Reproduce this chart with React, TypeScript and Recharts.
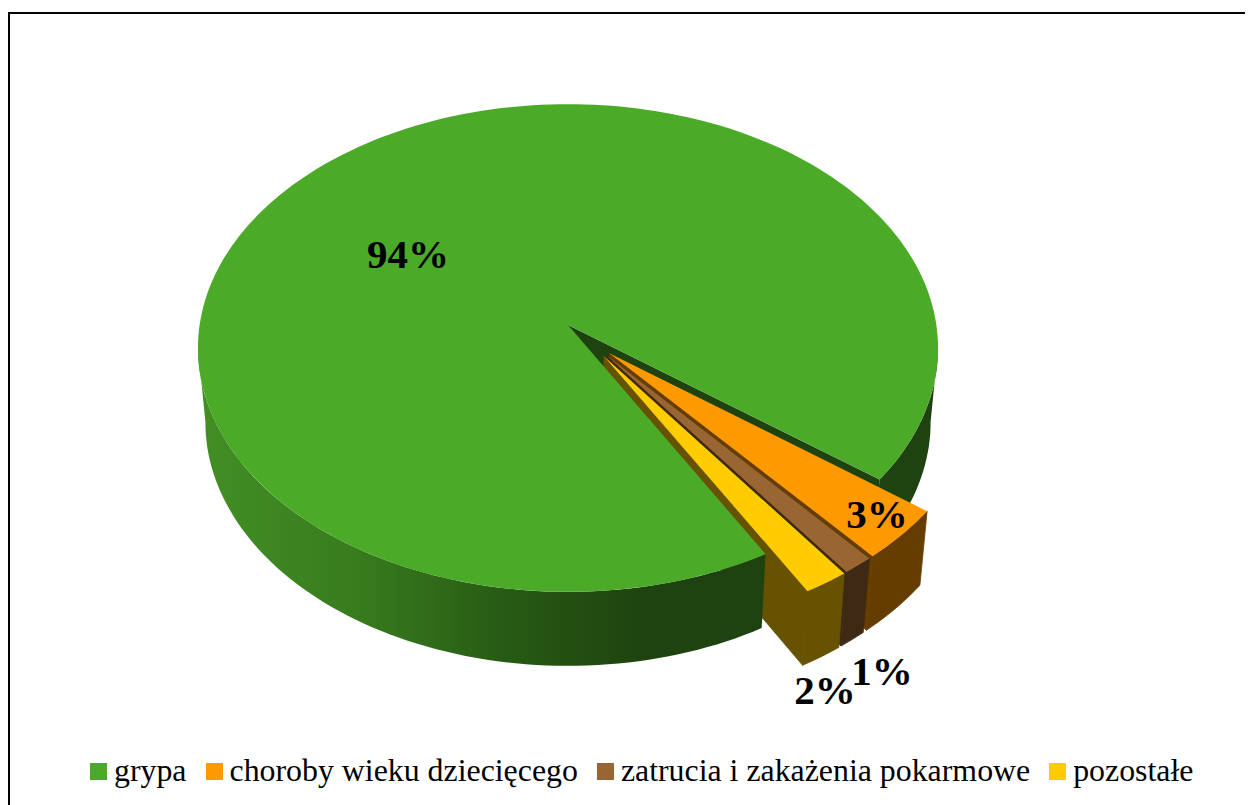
import React from 'react';
import { PieChart, Pie, Legend } from 'recharts';

const categories = ['grypa', 'choroby wieku dziecięcego', 'zatrucia i zakażenia pokarmowe', 'pozostałe'];
const shares = [93.5, 3.49, 1.21, 1.8];
const percentLabels = ['94%', '3%', '1%', '2%'];
const topColors = ['#4caa29', '#ff9900', '#996633', '#ffcc00'];
const wallColors = ['#1f4310', '#663d00', '#3d2914', '#665200'];

const chartData = categories.map((name, i) => ({ name, value: shares[i], fill: topColors[i] }));

// 3D look: perspective of the top face, explode distance and wall height
const CX = 560;
const CY = 317;
const RX = 368.4;
const SQUASH = 0.656;
const PERSP = 0.0943;
const EXPLODE = 0.16;
const DEPTH = 74;
const BOTTOM_SCALE = 0.98;
const START = -60.5;
const WEDGES_MID = -48.75;

// label centres, the original chart had them dragged by hand
const labelPos = [
  [400, 246],
  [869, 506],
  [874, 663],
  [817, 682],
];

type Pt = [number, number];

const project = (u: number, v: number): Pt => {
  const k = 1 - PERSP * v;
  return [CX + (RX * u) / k, CY + (RX * SQUASH * v) / k];
};
const lower = ([x, y]: Pt): Pt => [CX + (x - CX) * BOTTOM_SCALE, y + DEPTH];
const toPath = (pts: Pt[]) => 'M' + pts.map((p) => `${p[0].toFixed(1)},${p[1].toFixed(1)}`).join('L') + 'Z';

// points along the rim, angles are recharts angles (counter-clockwise degrees)
const rim = (from: number, to: number, ou: number, ov: number) => {
  const pts: Pt[] = [];
  const steps = Math.max(2, Math.ceil(Math.abs(to - from) / 1.5));
  for (let i = 0; i <= steps; i++) {
    const a = ((from + ((to - from) * i) / steps) * Math.PI) / 180;
    pts.push(project(ou + Math.cos(a), ov - Math.sin(a)));
  }
  return pts;
};

const isGreen = (props: any) => props.name === categories[0] || props.payload?.name === categories[0];

// small wedges are pulled out almost in one direction
const explodeOf = (props: any): Pt => {
  if (isGreen(props)) return [0, 0];
  const mid = ((props.midAngle % 360) + 360) % 360 - 360;
  const a = (((mid + WEDGES_MID) / 2) * Math.PI) / 180;
  return [EXPLODE * Math.cos(a), -EXPLODE * Math.sin(a)];
};

const WallShape = (props: any) => {
  const { startAngle, endAngle, fill } = props;
  if (isGreen(props)) {
    // only the part behind the wedges: short right arc and the cut face
    const arc = rim(endAngle, -365.4, 0, 0);
    const centre = project(0, 0);
    const cut = arc[0];
    return (
      <g>
        <path d={toPath([...arc, ...arc.map(lower).reverse()])} fill={wallColors[0]} />
        <path d={toPath([centre, cut, lower(cut), lower(centre)])} fill={wallColors[0]} />
      </g>
    );
  }
  const [ou, ov] = explodeOf(props);
  const arc = rim(startAngle, endAngle, ou, ov);
  const apex = project(ou, ov);
  const end = arc[arc.length - 1];
  const color = wallColors[topColors.indexOf(fill)];
  return (
    <g stroke={color} strokeWidth={0.8}>
      <path d={toPath([apex, end, lower(end), lower(apex)])} fill={color} />
      <path d={toPath([...arc, ...arc.map(lower).reverse()])} fill={color} />
    </g>
  );
};

const TopShape = (props: any) => {
  const { startAngle, endAngle, fill } = props;
  const [ou, ov] = explodeOf(props);
  const arc = rim(startAngle, endAngle, ou, ov);
  const apex = project(ou, ov);
  if (isGreen(props)) {
    // front wall from the lower cut round to the left side
    const front = rim(startAngle, -174.6, 0, 0);
    return (
      <g>
        <defs>
          <linearGradient id="wallFade" gradientUnits="userSpaceOnUse" x1={192} x2={632} y1={0} y2={0}>
            <stop offset="0" stopColor="#428f24" />
            <stop offset="0.35" stopColor="#387c1e" />
            <stop offset="0.68" stopColor="#285c14" />
            <stop offset="1" stopColor="#1f4310" />
          </linearGradient>
        </defs>
        <path d={toPath([...front, ...front.map(lower).reverse()])} fill="url(#wallFade)" />
        <path d={toPath([apex, ...arc])} fill={fill} />
      </g>
    );
  }
  return <path d={toPath([apex, ...arc])} fill={fill} />;
};

const renderLabel = (props: any) => {
  const i = props.index;
  return (
    <text
      x={labelPos[i][0]}
      y={labelPos[i][1]}
      textAnchor="middle"
      dominantBaseline="central"
      fontFamily="'Liberation Serif', serif"
      fontWeight={700}
      fontSize={41}
      fill="#000"
    >
      {percentLabels[i]}
    </text>
  );
};

const LegendRow = ({ payload }: any) => {
  const items = (payload || []).filter((p: any) => p.type !== 'none');
  return (
    <div style={{ display: 'flex', alignItems: 'center', fontFamily: "'Liberation Serif', serif", fontSize: 31.85, color: '#000' }}>
      {items.map((p: any, i: number) => (
        <span key={i} style={{ display: 'inline-flex', alignItems: 'center', marginRight: 19, whiteSpace: 'nowrap' }}>
          <span style={{ width: 17, height: 17, background: p.color, marginRight: 7, display: 'inline-block' }} />
          {p.value}
        </span>
      ))}
    </div>
  );
};

export default function App() {
  return (
    <div style={{ position: 'relative', width: 1245, height: 797 }}>
      <div style={{ position: 'absolute', left: 0, top: 3.5, width: 1300, height: 860, borderTop: '2.5px solid #000', borderLeft: '2.5px solid #000' }} />
      <PieChart width={1245} height={797} margin={{ top: 0, right: 0, bottom: 0, left: 0 }} style={{ position: 'absolute', left: 0, top: 0 }}>
        <Pie
          data={chartData}
          dataKey="value"
          nameKey="name"
          cx={CX}
          cy={CY}
          outerRadius={RX}
          startAngle={START}
          endAngle={START - 360}
          stroke="none"
          legendType="none"
          shape={WallShape}
          isAnimationActive={false}
        />
        <Pie
          data={chartData}
          dataKey="value"
          nameKey="name"
          cx={CX}
          cy={CY}
          outerRadius={RX}
          startAngle={START}
          endAngle={START - 360}
          stroke="none"
          legendType="square"
          shape={TopShape}
          label={renderLabel}
          labelLine={false}
          isAnimationActive={false}
        />
        <Legend content={<LegendRow />} itemSorter={null} wrapperStyle={{ left: 82, top: 745, width: 1160 }} />
      </PieChart>
    </div>
  );
}
